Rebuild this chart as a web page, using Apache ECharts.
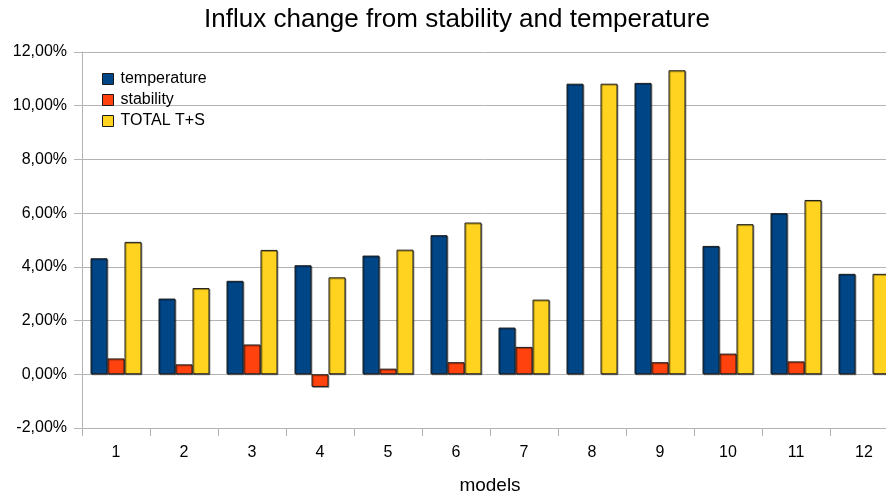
<!DOCTYPE html>
<html>
<head>
<meta charset="utf-8">
<script src="https://cdn.jsdelivr.net/npm/echarts@6/dist/echarts.min.js"></script>
<style>
  html, body { margin: 0; padding: 0; background: #fff; }
  #chart { width: 886px; height: 494px; }
</style>
</head>
<body>
<div id="chart"></div>
<script>
const models = ['1', '2', '3', '4', '5', '6', '7', '8', '9', '10', '11', '12'];
const temperature = [4.32, 2.82, 3.48, 4.06, 4.42, 5.18, 1.74, 10.82, 10.85, 4.78, 6.0, 3.74];
// models 8 and 12 have no stability bar drawn
const stability = [0.59, 0.37, 1.11, -0.47, 0.21, 0.45, 1.02, null, 0.45, 0.77, 0.48, null];
const total = [4.93, 3.21, 4.63, 3.61, 4.64, 5.65, 2.78, 10.82, 11.32, 5.59, 6.49, 3.74];

const font = 'Liberation Sans, Arial, sans-serif';

function barSeries(name, data, color) {
  return {
    name: name,
    type: 'bar',
    data: data,
    barWidth: 17,
    barGap: '0%',
    itemStyle: {
      color: color,
      borderColor: '#1a1a1a',
      borderWidth: 1,
      shadowColor: 'rgba(0,0,0,0.35)',
      shadowOffsetX: 1,
      shadowOffsetY: 1
    }
  };
}

const chart = echarts.init(document.getElementById('chart'));
chart.setOption({
  backgroundColor: '#ffffff',
  animation: false,
  title: {
    text: 'Influx change from stability and temperature',
    left: 452,
    textAlign: 'center',
    top: 2,
    textStyle: { fontFamily: font, fontSize: 26, fontWeight: 'normal', color: '#000' }
  },
  legend: {
    orient: 'vertical',
    left: 97,
    top: 66,
    itemWidth: 11,
    itemHeight: 11,
    itemGap: 5,
    icon: 'rect',
    textStyle: { fontFamily: font, fontSize: 16, color: '#000', padding: [0, 0, 0, 2] },
    itemStyle: { borderColor: '#1a1a1a', borderWidth: 1, shadowBlur: 0, shadowOffsetX: 0, shadowOffsetY: 0 },
    data: ['temperature', 'stability', 'TOTAL T+S']
  },
  grid: { left: 82, top: 52, width: 816, height: 376, containLabel: false, outerBoundsMode: 'none' },
  xAxis: {
    type: 'category',
    data: models,
    name: 'models',
    nameLocation: 'middle',
    nameGap: 48,
    nameTextStyle: { fontFamily: font, fontSize: 19, color: '#000' },
    axisLine: { onZero: false, lineStyle: { color: '#b3b3b3', width: 1 } },
    axisTick: { show: true, length: 8, lineStyle: { color: '#b3b3b3' } },
    axisLabel: { fontFamily: font, fontSize: 16, color: '#000', margin: 17 }
  },
  yAxis: {
    type: 'value',
    min: -2,
    max: 12,
    interval: 2,
    axisLine: { show: true, lineStyle: { color: '#b3b3b3', width: 1 } },
    axisTick: { show: true, length: 8, lineStyle: { color: '#b3b3b3' } },
    axisLabel: {
      fontFamily: font, fontSize: 16, color: '#000', margin: 15,
      formatter: v => v.toFixed(2).replace('.', ',') + '%'
    },
    splitLine: { lineStyle: { color: '#b3b3b3', width: 1 } }
  },
  series: [
    barSeries('temperature', temperature, '#004586'),
    barSeries('stability', stability, '#ff420e'),
    barSeries('TOTAL T+S', total, '#ffd320')
  ]
});
</script>
</body>
</html>
